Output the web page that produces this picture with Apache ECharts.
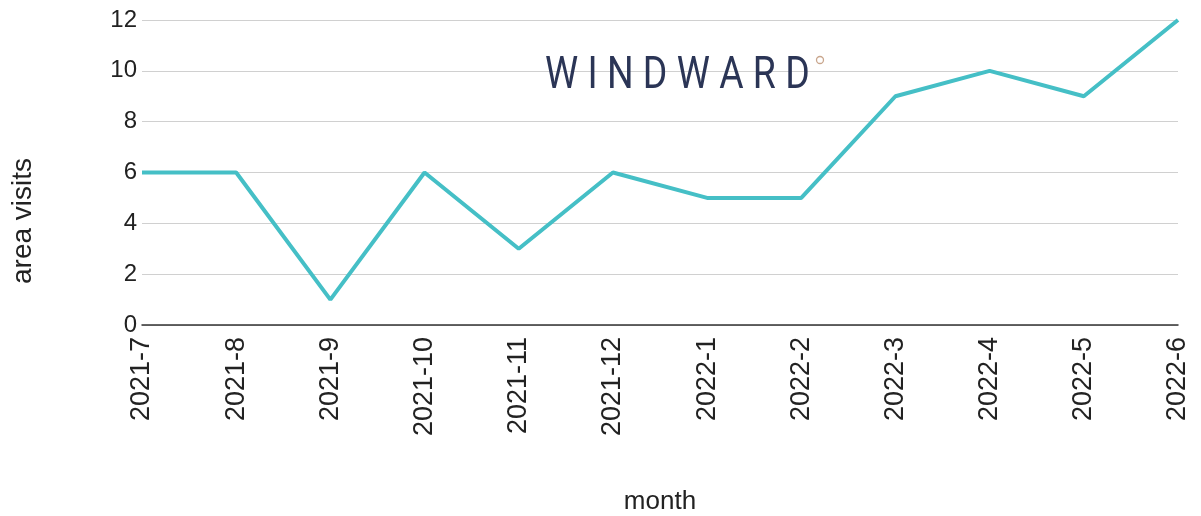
<!DOCTYPE html>
<html>
<head>
<meta charset="utf-8">
<script src="https://cdn.jsdelivr.net/npm/echarts@6/dist/echarts.min.js"></script>
<style>
  html, body { margin: 0; padding: 0; background: #fff; }
  #root { width: 1201px; height: 516px; }
</style>
</head>
<body>
<div id="root"></div>
<script>
const months = ['2021-7', '2021-8', '2021-9', '2021-10', '2021-11', '2021-12',
  '2022-1', '2022-2', '2022-3', '2022-4', '2022-5', '2022-6']
const visits = [6, 6, 1, 6, 3, 6, 5, 5, 9, 10, 9, 12]

const chart = echarts.init(document.getElementById('root'))
const font = '"Liberation Sans", Arial, sans-serif'

const option = {
  animation: false,
  grid: {
    left: 142, right: 23, top: 20, bottom: 191,
    containLabel: false,
    outerBoundsMode: 'none'
  },
  graphic: [
    {
      type: 'text',
      left: 545,
      top: 55,
      scaleX: 0.85,
      z: 10,
      style: {
        text: 'W I N D W A R D',
        font: '400 44px Roboto, "Liberation Sans", sans-serif',
        fill: '#2b3556'
      }
    },
    {
      type: 'circle',
      shape: { cx: 820, cy: 60, r: 3.5 },
      z: 10,
      style: { fill: 'none', stroke: '#c9a68d', lineWidth: 1.3 }
    },
    {
      // y axis title sits a bit below the grid middle in the source
      type: 'text',
      x: 23,
      y: 221,
      rotation: Math.PI / 2,
      style: {
        text: 'area visits',
        font: '28px "Liberation Sans", Arial, sans-serif',
        fill: '#222',
        align: 'center',
        verticalAlign: 'middle'
      }
    }
  ],
  xAxis: {
    type: 'category',
    data: months,
    boundaryGap: false,
    name: 'month',
    nameLocation: 'middle',
    nameGap: 164,
    nameTextStyle: { fontFamily: font, fontSize: 26, color: '#222' },
    axisLine: { lineStyle: { color: '#333', width: 1.5 } },
    axisTick: { show: false },
    axisLabel: {
      rotate: 90,
      margin: 12,
      interval: 0,
      fontFamily: font,
      fontSize: 27,
      color: '#222'
    },
    splitLine: { show: false }
  },
  yAxis: {
    type: 'value',
    min: 0,
    max: 12,
    interval: 2,
    axisLine: { show: false },
    axisTick: { show: false },
    axisLabel: { margin: 5, fontFamily: font, fontSize: 24, color: '#222' },
    splitLine: { lineStyle: { color: '#d0d0d0', width: 1 } }
  },
  series: [
    {
      type: 'line',
      data: visits,
      symbol: 'none',
      lineStyle: { color: '#45bfc6', width: 4 },
      z: 3
    }
  ]
}

chart.setOption(option)
</script>
</body>
</html>
